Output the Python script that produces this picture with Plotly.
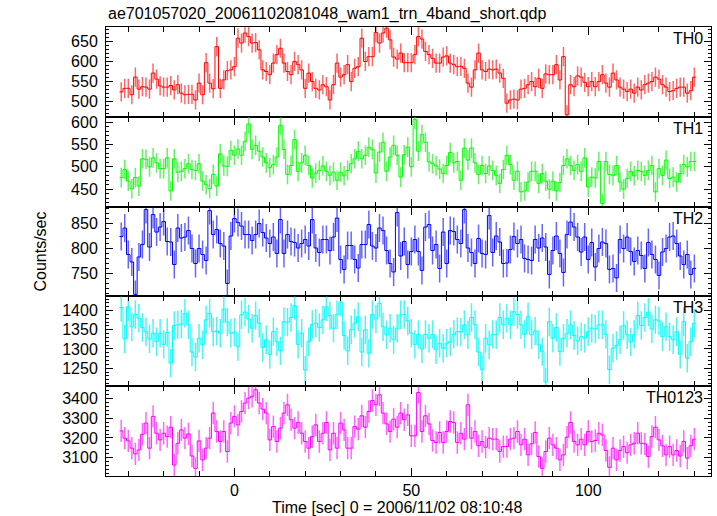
import plotly.graph_objects as go
from plotly.subplots import make_subplots

# ---- data (1-s bins, time in seconds relative to 2006/11/02 08:10:48) ----
TIME = list(range(-32, 131))

TH0 = [524,533,533,517,561,531,537,536,531,571,556,539,536,536,540,529,542,521,517,518,
       518,504,546,517,597,546,532,637,533,554,577,579,587,658,646,671,662,646,647,629,
       579,575,567,596,617,633,596,575,567,600,592,579,533,571,550,533,529,542,537,504,
       542,596,561,567,592,550,583,587,
       658,600,612,612,672,646,671,683,654,611,606,621,597,597,597,617,662,656,625,617,
       608,596,596,611,614,596,592,587,588,583,546,536,579,621,579,575,581,579,581,571,
       558,496,504,506,504,531,533,542,550,537,558,533,569,567,567,592,554,612,467,542,
       537,564,561,548,537,550,537,550,567,546,536,571,554,536,531,525,531,521,536,529,
       542,546,550,561,556,542,536,525,527,533,536,536,521,527,561]

TH1 = [476,494,468,451,476,457,518,517,500,520,509,496,496,520,446,518,488,490,496,507,
       494,492,507,468,460,451,483,457,529,502,501,537,526,540,526,557,596,539,548,535,
       522,509,498,505,522,593,539,483,503,561,490,509,526,503,475,486,492,502,490,481,
       488,470,488,480,492,507,518,535,518,526,544,539,486,533,555,490,522,548,526,477,
       527,
       544,500,606,535,572,555,511,507,502,495,485,503,532,509,512,470,542,515,542,509,
       483,503,485,502,492,481,463,494,526,505,470,490,444,446,466,490,490,463,485,468,
       450,468,446,465,503,518,503,492,505,490,520,455,477,475,512,418,512,483,481,503,
       466,450,474,490,480,492,490,481,492,503,444,496,481,515,474,477,466,485,505,500,
       512,512]

TH2 = [824,841,788,773,708,783,808,878,803,868,833,843,854,814,813,768,841,821,823,836,
       800,770,800,788,776,876,828,838,810,805,730,825,860,852,845,828,828,816,828,850,
       832,821,810,823,790,858,790,828,814,812,801,810,818,805,858,801,792,818,818,796,
       823,861,778,758,806,806,778,761,808,808,848,805,801,841,836,796,770,753,872,785,
       814,
       768,794,818,794,756,843,848,796,808,760,833,770,836,834,818,810,878,801,792,770,
       820,790,788,866,792,825,813,770,771,798,824,810,818,780,778,776,818,801,821,803,
       748,796,825,790,752,828,853,843,823,793,823,778,812,763,800,813,810,758,760,741,
       818,800,823,794,774,796,786,760,812,788,778,746,793,800,823,825,810,785,768,788,
       748,760]

TH3 = [1408,1326,1410,1358,1390,1380,1356,1345,1326,1341,1319,1341,1312,1343,1263,1361,1363,1365,1393,1363,
       1292,1279,1328,1311,1376,1393,1345,1347,1341,1404,1370,1341,1344,1306,1389,1396,1378,1354,1387,1367,
       1304,1324,1286,1345,1319,1295,1371,1370,1382,1413,1312,1341,1245,1319,1364,1367,1356,1376,1410,1387,
       1354,1389,1422,1335,1295,1350,1367,1384,1292,1350,1289,1390,1378,1419,1358,1337,1354,1324,1354,1389,
       1390,1373,1341,1312,1338,1300,1338,1328,1338,1298,1315,1302,1315,1319,1338,1345,1344,1363,1337,1382,
       1363,1292,1246,1328,1311,1338,1337,1382,1363,1380,1363,1397,1390,1363,1338,1384,1337,1347,1311,1293,
       1214,1371,1328,1356,1293,1328,1341,1363,1335,1321,1332,1328,1345,1354,1352,1363,1363,1338,1246,1302,
       1309,1324,1361,1337,1318,1338,1387,1361,1382,1396,1352,1376,1373,1332,1358,1332,1324,1345,1286,1371,
       1276,1319,1367]

TH0123 = [3236,3199,3185,3148,3119,3139,3219,3276,3148,3310,3224,3190,3224,3207,3255,3062,3173,3241,3199,3221,
          3108,3045,3185,3088,3148,3199,3327,3233,3182,3233,3131,3276,3310,3267,3335,3378,3403,3412,3446,3378,
          3347,3327,3190,3258,3182,3250,3327,3369,3293,3250,3279,3224,3182,3148,3207,3267,3182,3224,3279,3139,
          3224,3148,3276,3241,3148,3148,3258,3245,
          3313,3255,3335,3391,3369,3420,3327,3272,3233,3296,3255,3327,3293,3318,3211,3211,3432,3233,3313,3272,
          3187,3177,3228,3177,3233,3284,3279,3177,3224,3194,3369,3199,3233,3160,3182,3153,3199,3194,3194,3131,
          3156,3156,3194,3199,3233,3165,3194,3114,3170,3228,3105,3045,3131,3199,3165,3148,3088,3114,3204,3279,
          3182,3165,3194,3165,3233,3182,3187,3224,3216,3136,3050,3148,3088,3136,3156,3125,3165,3173,3224,3173,
          3170,3105,3207,3255,3190,3160,3114,3156,3114,3136,3108,3182,3097,3160,3194]

# approximate 1-sigma error (counts/sec) per band
ERRORS = [24, 22, 28, 37, 57]
NAMES = ["TH0", "TH1", "TH2", "TH3", "TH0123"]
SERIES = [TH0, TH1, TH2, TH3, TH0123]
COLORS = ["#ff0000", "#00ff00", "#0000ff", "#00ffff", "#ff00ff"]
ERRCOLORS = ["rgba(255,0,0,0.6)", "rgba(0,230,0,0.6)", "rgba(0,0,255,0.6)",
             "rgba(0,240,240,0.7)", "rgba(255,0,255,0.6)"]
YRANGES = [[462, 686], [411, 612], [704, 884], [1203, 1437], [3006, 3464]]
YDTICK = [50, 50, 50, 50, 100]
YMINOR = [10, 10, 10, 10, 20]

FONT = "Liberation Sans, Arial, Helvetica, sans-serif"
FS = 16

fig = make_subplots(rows=5, cols=1, shared_xaxes=True, vertical_spacing=0)

edges = [t - 0.5 for t in TIME] + [TIME[-1] + 0.5]
for i, (name, vals, col, ecol, err) in enumerate(zip(NAMES, SERIES, COLORS, ERRCOLORS, ERRORS)):
    row = i + 1
    fig.add_trace(go.Scatter(
        x=TIME, y=vals, mode="markers",
        marker=dict(size=1, color=col, opacity=0),
        error_y=dict(type="constant", value=err, color=ecol, thickness=1.5, width=0),
        showlegend=False, hoverinfo="skip"), row=row, col=1)
    fig.add_trace(go.Scatter(
        x=edges, y=vals + [vals[-1]], mode="lines",
        line=dict(color=col, width=1, shape="hv"),
        showlegend=False, name=name), row=row, col=1)
    fig.update_yaxes(
        range=YRANGES[i], dtick=YDTICK[i], tick0=0,
        ticks="inside", ticklen=7, tickcolor="black", tickwidth=1,
        minor=dict(dtick=YMINOR[i], ticks="inside", ticklen=3, tickcolor="black"),
        showline=True, linecolor="black", linewidth=1, mirror="allticks",
        showgrid=False, zeroline=False, ticklabelstandoff=4,
        tickfont=dict(family=FONT, size=FS, color="black"),
        row=row, col=1)

fig.update_xaxes(
    range=[-36.3, 134.7], dtick=50, tick0=0,
    ticks="inside", ticklen=8, tickcolor="black",
    minor=dict(dtick=10, ticks="inside", ticklen=5, tickcolor="black"),
    showline=True, linecolor="black", linewidth=1, mirror="allticks",
    showgrid=False, zeroline=False,
    tickfont=dict(family=FONT, size=FS, color="black"))

annotations = []
for i, name in enumerate(NAMES):
    top = 1 - i * 0.2
    annotations.append(dict(text=name, xref="paper", yref="paper", x=1, y=top,
                            xanchor="right", yanchor="top", xshift=-6, yshift=-1,
                            showarrow=False, font=dict(family=FONT, size=FS, color="black")))
annotations.append(dict(text="ae701057020_20061102081048_wam1_trn_4band_short.qdp",
                        xref="paper", yref="paper", x=0, y=1, xanchor="left", yanchor="bottom",
                        yshift=2, showarrow=False, font=dict(family=FONT, size=FS, color="black")))
annotations.append(dict(text="Counts/sec", xref="paper", yref="paper", x=-0.109, y=0.5,
                        xanchor="center", yanchor="middle", textangle=-90,
                        showarrow=False, font=dict(family=FONT, size=FS, color="black")))
annotations.append(dict(text="Time [sec] 0 = 2006/11/02 08:10:48", xref="paper", yref="paper",
                        x=0.481, y=0, xanchor="center", yanchor="middle", yshift=-31,
                        showarrow=False, font=dict(family=FONT, size=FS, color="black")))

fig.update_layout(
    width=717, height=516,
    margin=dict(l=106, r=6, t=27, b=40),
    plot_bgcolor="white", paper_bgcolor="white",
    annotations=annotations,
    font=dict(family=FONT, size=FS, color="black"),
)

fig.write_html("out.html", config={"displayModeBar": False},
               post_script="document.body.style.margin='0px';document.body.style.overflow='hidden';")
